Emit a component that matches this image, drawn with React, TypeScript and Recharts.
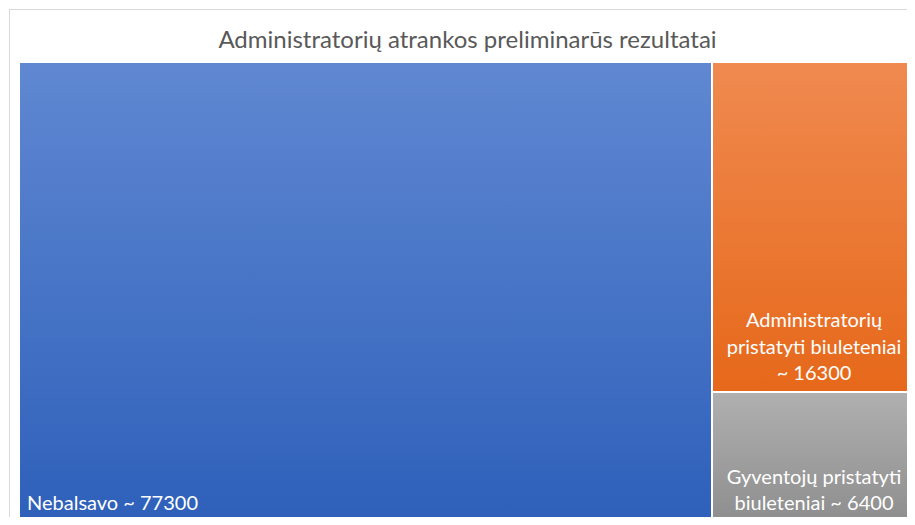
import { Treemap } from 'recharts';

const names = ['Nebalsavo', 'Administratorių pristatyti biuleteniai', 'Gyventojų pristatyti biuleteniai'];
const values = [77300, 16300, 6400];
const labelLines = [
  ['Nebalsavo ~ 77300'],
  ['Administratorių', 'pristatyti biuleteniai', '~ 16300'],
  ['Gyventojų pristatyti', 'biuleteniai ~ 6400'],
];
const gradTop = ['#6088D2', '#F08A50', '#B0B0B0'];
const gradBottom = ['#2E60BA', '#E6681A', '#8E8E8E'];

const data = names.map((name, i) => ({ name, size: values[i], lines: labelLines[i], idx: i }));

const FONT = 'Lato, "Open Sans", sans-serif';

const Cell = (props) => {
  const { x, y, width, height, depth, lines, idx } = props;
  if (depth !== 1) return <g />;
  const lh = 26.5;
  const wide = width > 300;
  const n = lines.length;
  return (
    <g>
      <rect x={x} y={y} width={width} height={height} fill={`url(#grad${idx})`} stroke="#fff" strokeWidth={2} />
      {lines.map((t, k) => (
        <text
          key={k}
          x={wide ? x + 8 : x + width / 2}
          y={y + height - 12 - (n - 1 - k) * lh}
          textAnchor={wide ? 'start' : 'middle'}
          fill="#fff"
          stroke="none"
          fontSize={20}
          fontFamily={FONT}
        >
          {t}
        </text>
      ))}
    </g>
  );
};

export default function App() {
  return (
    <div style={{ position: 'relative', width: 915, height: 525, margin: -8, overflow: 'hidden', background: '#fff' }}>
      <svg width={0} height={0} style={{ position: 'absolute' }}>
        <defs>
          {gradTop.map((c, i) => (
            <linearGradient key={i} id={`grad${i}`} x1="0" y1="0" x2="0" y2="1">
              <stop offset="0%" stopColor={c} />
              <stop offset="100%" stopColor={gradBottom[i]} />
            </linearGradient>
          ))}
        </defs>
      </svg>
      <div style={{ position: 'absolute', left: 140, top: -15, fontFamily: 'serif', fontSize: 20, color: '#000' }}>ų</div>
      <div style={{ position: 'absolute', left: 9, top: 9, width: 920, height: 530, border: '1px solid #D9D9D9', boxSizing: 'border-box' }} />
      <div style={{ position: 'absolute', left: 9, top: 24, width: 917, textAlign: 'center', fontFamily: FONT, fontSize: 24, lineHeight: '30px', color: '#595959' }}>
        Administratorių atrankos preliminarūs rezultatai
      </div>
      <div style={{ position: 'absolute', left: 19, top: 62 }}>
        <Treemap
          width={897}
          height={460}
          data={data}
          dataKey="size"
          content={<Cell />}
          isAnimationActive={false}
          stroke="#fff"
        />
      </div>
    </div>
  );
}
